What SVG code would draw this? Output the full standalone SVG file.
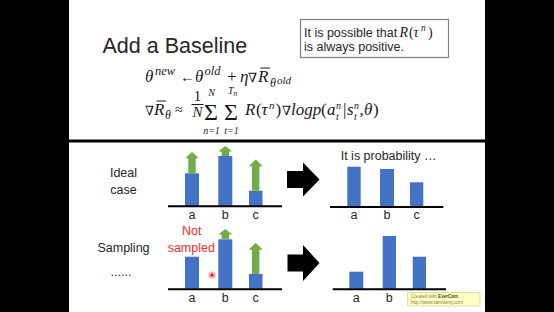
<svg xmlns="http://www.w3.org/2000/svg" width="554" height="312" viewBox="0 0 554 312">
<style>
.sans{font-family:"Liberation Sans",Arial,sans-serif;fill:#262626}
.m{font-family:"Liberation Serif","DejaVu Serif",serif;font-style:italic;fill:#1a1a1a}
.mu{font-family:"Liberation Serif","DejaVu Serif",serif;fill:#1a1a1a}
.sym{font-family:"DejaVu Serif",serif;font-style:italic;fill:#1a1a1a}
.bar{fill:#4472C4}
.up{fill:#70AD47}
.axis{stroke:#000;stroke-width:2}
.lbl{font-family:"Liberation Sans",Arial,sans-serif;font-size:12.5px;fill:#262626;text-anchor:middle}
.blk{fill:#000}
</style>
<rect x="0" y="0" width="554" height="312" fill="#000"/>
<rect x="69" y="0" width="416" height="312" fill="#fff"/>

<g id="title">
<text class="sans" x="102.5" y="53" font-size="21.5">Add a Baseline</text>
</g>

<g id="note">
<rect x="300.5" y="19.5" width="148" height="38" fill="#fff" stroke="#7f7f7f" stroke-width="1.2"/>
<text class="sans" x="304" y="36.5" font-size="12.5">It is possible that</text>
<text class="m" x="399.5" y="36.5" font-size="14">R</text>
<text class="mu" x="409" y="36.5" font-size="14">(</text>
<text class="m" x="413.5" y="36.5" font-size="14">τ</text>
<text class="m" x="421" y="31" font-size="9.5">n</text>
<text class="mu" x="428" y="36.5" font-size="14">)</text>
<text class="sans" x="304" y="50.5" font-size="12.5">is always positive.</text>
</g>

<g id="formula-update">
<text class="m" x="145" y="82" font-size="17">θ</text>
<text class="m" x="155" y="75" font-size="12.5">new</text>
<text class="mu" x="180" y="82" font-size="15" font-family="DejaVu Sans">←</text>
<text class="m" x="195" y="82" font-size="17">θ</text>
<text class="m" x="204.5" y="75" font-size="12.5">old</text>
<text class="mu" x="227" y="82" font-size="17">+</text>
<text class="m" x="240" y="82" font-size="17">η</text>
<text class="sym" x="248" y="82" font-size="13">∇</text>
<text class="m" x="258" y="82" font-size="17">R</text>
<line x1="260.5" y1="68" x2="270" y2="68" stroke="#1a1a1a" stroke-width="1"/>
<text class="m" x="270" y="87" font-size="12">θ</text>
<text class="m" x="277" y="84" font-size="11">old</text>
</g>

<g id="formula-gradient">
<text class="sym" x="145" y="115" font-size="13">∇</text>
<text class="m" x="154" y="115" font-size="17">R</text>
<line x1="156.5" y1="101" x2="166" y2="101" stroke="#1a1a1a" stroke-width="1"/>
<text class="m" x="165" y="119" font-size="12">θ</text>
<text class="mu" x="175" y="114" font-size="14" font-family="DejaVu Sans">≈</text>
<text class="mu" x="197.5" y="101" font-size="15" text-anchor="middle">1</text>
<line x1="191.5" y1="104.5" x2="203.5" y2="104.5" stroke="#1a1a1a" stroke-width="1"/>
<text class="m" x="197.5" y="116.5" font-size="15" text-anchor="middle">N</text>
<text class="mu" x="204" y="119.5" font-size="24">Σ</text>
<text class="m" x="211.5" y="95.5" font-size="10" text-anchor="middle">N</text>
<text class="m" x="211.5" y="134" font-size="10" text-anchor="middle">n=1</text>
<text class="mu" x="224" y="119.5" font-size="24">Σ</text>
<text class="m" x="228" y="94" font-size="10">T</text>
<text class="m" x="233.5" y="96" font-size="7.5">n</text>
<text class="m" x="231.5" y="134" font-size="10" text-anchor="middle">t=1</text>
<text class="m" x="245" y="115" font-size="17">R</text>
<text class="mu" x="256" y="115" font-size="17">(</text>
<text class="m" x="261.5" y="115" font-size="17">τ</text>
<text class="m" x="269" y="108.5" font-size="11">n</text>
<text class="mu" x="275.5" y="115" font-size="17">)</text>
<text class="sym" x="282" y="115" font-size="13">∇</text>
<text class="m" x="291" y="115" font-size="17">logp</text>
<text class="mu" x="321" y="115" font-size="17">(</text>
<text class="m" x="327" y="115" font-size="17">a</text>
<text class="m" x="336" y="108.5" font-size="10">n</text>
<text class="m" x="336" y="119.5" font-size="10">t</text>
<text class="mu" x="343" y="115" font-size="17">|</text>
<text class="m" x="347" y="115" font-size="17">s</text>
<text class="m" x="354" y="108.5" font-size="10">n</text>
<text class="m" x="354" y="119.5" font-size="10">t</text>
<text class="mu" x="359.5" y="115" font-size="17">,</text>
<text class="m" x="364" y="115" font-size="17">θ</text>
<text class="mu" x="373" y="115" font-size="17">)</text>
</g>

<line x1="69" y1="141" x2="485" y2="141" stroke="#000" stroke-width="3"/>

<g id="ideal-label">
<text class="lbl" x="123.5" y="177">Ideal</text>
<text class="lbl" x="123.5" y="194">case</text>
</g>

<g id="sampling-label">
<text class="lbl" x="123.5" y="251.7">Sampling</text>
<text class="lbl" x="121" y="276" font-size="7.5">......</text>
</g>

<g id="ideal-chart">
<rect class="bar" x="185" y="173.3" width="14" height="32.5"/>
<rect class="bar" x="218.3" y="156" width="14" height="49.8"/>
<rect class="bar" x="249" y="190.7" width="13.5" height="15.1"/>
<path class="up" d="M188.3,173.3V158.3H185L192,152L199,158.3H195.7V173.3Z"/>
<path class="up" d="M221.6,156V151.6H218.3L225.3,146L232.3,151.6H229V156Z"/>
<path class="up" d="M251.9,190.7V166.2H248.6L255.7,159.6L262.7,166.2H259.4V190.7Z"/>
<line class="axis" x1="168" y1="206.3" x2="282" y2="206.3"/>
<text class="lbl" x="192" y="219">a</text>
<text class="lbl" x="225.3" y="219">b</text>
<text class="lbl" x="255.7" y="219">c</text>
</g>

<g id="sampling-chart">
<rect class="bar" x="185" y="256.7" width="14" height="32"/>
<rect class="bar" x="218.3" y="239.3" width="14" height="49.4"/>
<rect class="bar" x="249" y="274" width="13.5" height="14.7"/>
<path class="up" d="M221.6,239.3V234.5H218.3L225.3,229L232.3,234.5H229V239.3Z"/>
<path class="up" d="M251.9,274V249.8H248.6L255.7,242.8L262.7,249.8H259.4V274Z"/>
<line class="axis" x1="168" y1="289.3" x2="282" y2="289.3"/>
<text class="lbl" x="192" y="302.3">a</text>
<text class="lbl" x="225.3" y="302.3">b</text>
<text class="lbl" x="255.7" y="302.3">c</text>
<text class="lbl" x="191.7" y="235" style="fill:#ef2b2b">Not</text>
<text class="lbl" x="191.3" y="251.7" style="fill:#ef2b2b">sampled</text>
<circle cx="212" cy="275" r="3.6" fill="#f7a8a8"/>
<circle cx="212" cy="275" r="1.6" fill="#d81c1c"/>
</g>

<g id="prob-chart">
<text class="sans" x="340.7" y="160" font-size="12.5">It is probability …</text>
<rect class="bar" x="347.3" y="166.7" width="13.4" height="39.3"/>
<rect class="bar" x="380" y="169" width="14" height="37"/>
<rect class="bar" x="410" y="182.3" width="13.3" height="23.7"/>
<line class="axis" x1="330" y1="207" x2="443.3" y2="207"/>
<text class="lbl" x="354" y="219.3">a</text>
<text class="lbl" x="387" y="219.3">b</text>
<text class="lbl" x="416.7" y="219.3">c</text>
</g>

<g id="sampled-prob-chart">
<rect class="bar" x="349.3" y="271.7" width="14" height="17"/>
<rect class="bar" x="382.7" y="236" width="13.3" height="52.7"/>
<rect class="bar" x="412.7" y="256.7" width="13.3" height="32"/>
<line class="axis" x1="332.7" y1="289.2" x2="446" y2="289.2"/>
<text class="lbl" x="356.3" y="301.7">a</text>
<text class="lbl" x="389.3" y="301.7">b</text>
</g>

<g id="connectors">
<path class="blk" d="M287,171H303V162.5L319.5,179.5L303,196.5V188H287Z"/>
<path class="blk" d="M287.5,254.5H303V245L319.5,263L303,281V271.5H287.5Z"/>
</g>

<g id="watermark">
<rect x="407.5" y="292.5" width="72.5" height="13.5" fill="#ffffc6" stroke="#e3d689" stroke-width="0.8"/>
<text x="411" y="298.3" font-family="Liberation Sans,Arial,sans-serif" font-size="4.6" fill="#8c7d55">Created with <tspan font-weight="bold" fill="#5a4a20">EverCam</tspan></text>
<text x="411" y="304" font-family="Liberation Sans,Arial,sans-serif" font-size="4.6" fill="#8c7d55">http://www.camdemy.com</text>
</g>
</svg>
